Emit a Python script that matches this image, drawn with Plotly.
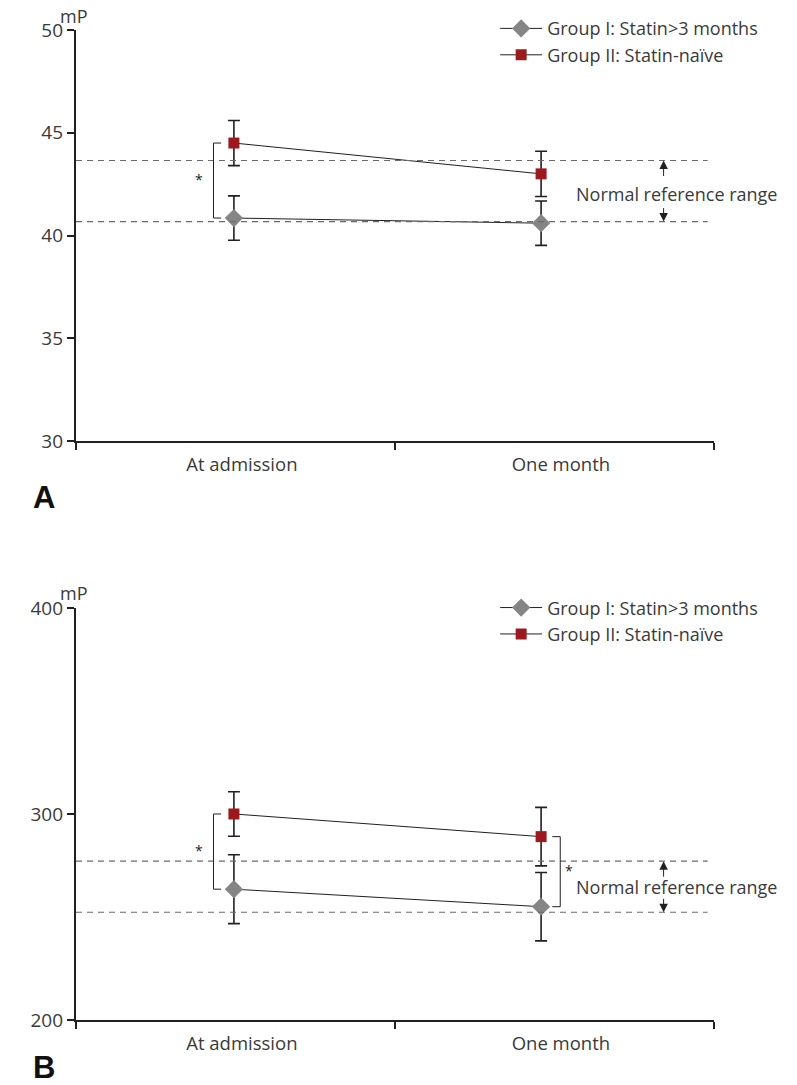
import plotly.graph_objects as go

# ---------------- data ----------------
categories = ["At admission", "One month"]
label_x = [0.52, 1.52]          # category label positions on the x scale
point_x = [0.495, 1.458]        # where the means are plotted
series_names = ["Group I: Statin>3 months", "Group II: Statin-naïve"]

# Panel A
a_g1 = [40.85, 40.6]
a_g1_err = [1.08, 1.08]
a_g2 = [44.5, 43.0]
a_g2_err = [1.1, 1.1]
a_ref = [40.68, 43.65]
a_yticks = [30, 35, 40, 45, 50]

# Panel B
b_g1 = [263.5, 255.0]
b_g1_err = [16.7, 16.6]
b_g2 = [300.0, 289.0]
b_g2_err = [10.8, 14.2]
b_ref = [252.3, 277.1]
b_yticks = [200, 300, 400]

# significance brackets: (category index, side)
a_sig = [(0, "left")]
b_sig = [(0, "left"), (1, "right")]

# ---------------- style ----------------
FONT = "Open Sans"
DARK = "#231f20"
TXT = "#3a3a3a"
RED = "#9c1a1e"
GRAY = "#858585"

fig = go.Figure()

def add_panel(xa, ya, g1, g1e, g2, g2e, legend):
    fig.add_trace(go.Scatter(
        x=point_x, y=g1, name=series_names[0], mode="lines+markers",
        xaxis=xa, yaxis=ya, legend=legend,
        line=dict(color=DARK, width=1),
        marker=dict(symbol="diamond", size=14, color=GRAY),
        error_y=dict(type="data", array=g1e, visible=True, color=DARK,
                     thickness=1.6, width=6),
    ))
    fig.add_trace(go.Scatter(
        x=point_x, y=g2, name=series_names[1], mode="lines+markers",
        xaxis=xa, yaxis=ya, legend=legend,
        line=dict(color=DARK, width=1),
        marker=dict(symbol="square", size=11, color=RED),
        error_y=dict(type="data", array=g2e, visible=True, color=DARK,
                     thickness=1.6, width=6),
    ))

add_panel("x", "y", a_g1, a_g1_err, a_g2, a_g2_err, "legend")
add_panel("x2", "y2", b_g1, b_g1_err, b_g2, b_g2_err, "legend2")

shapes = []
annotations = []

def ref_range(xr, yr, ref):
    for v in ref:
        shapes.append(dict(type="line", xref=xr, yref=yr, x0=0, x1=1.98,
                           y0=v, y1=v, line=dict(color="#6a6a6a", width=1.2, dash="6px,5px")))
    lo, hi = ref
    annotations.append(dict(xref=xr, yref=yr, x=1.842, y=hi, ax=0, ay=17,
                            showarrow=True, arrowhead=2, arrowsize=1.7,
                            arrowwidth=1, arrowcolor=DARK, text=""))
    annotations.append(dict(xref=xr, yref=yr, x=1.842, y=lo, ax=0, ay=-15,
                            showarrow=True, arrowhead=2, arrowsize=1.7,
                            arrowwidth=1, arrowcolor=DARK, text=""))

def ref_text(xr, yr, ypix_from_hi, ref):
    annotations.append(dict(xref=xr, yref=yr, x=1.562, y=ref[1], yshift=-ypix_from_hi,
                            xanchor="left", yanchor="middle", showarrow=False,
                            text="Normal reference range",
                            font=dict(family=FONT, size=18, color=TXT)))

def brackets(xr, yr, sig, g1, g2):
    for i, side in sig:
        if side == "left":
            xb, xt, xs = point_x[i] - 0.064, point_x[i] - 0.04, point_x[i] - 0.11
        else:
            xb, xt, xs = point_x[i] + 0.06, point_x[i] + 0.035, point_x[i] + 0.086
        top, bot = g2[i], g1[i]
        shapes.append(dict(type="path", xref=xr, yref=yr,
                           path=f"M {xt},{top} L {xb},{top} L {xb},{bot} L {xt},{bot}",
                           line=dict(color=DARK, width=1)))
        annotations.append(dict(xref=xr, yref=yr, x=xs, y=(top + bot) / 2 + (top - bot) * 0.02,
                                showarrow=False, text="*",
                                font=dict(family=FONT, size=14, color=DARK)))

ref_range("x", "y", a_ref)
ref_text("x", "y", 33, a_ref)
brackets("x", "y", a_sig, a_g1, a_g2)

ref_range("x2", "y2", b_ref)
ref_text("x2", "y2", 26, b_ref)
brackets("x2", "y2", b_sig, b_g1, b_g2)

# unit labels and panel letters
annotations.append(dict(xref="paper", yref="paper", x=-0.003, y=1.0, yshift=14,
                        xanchor="center", yanchor="middle", showarrow=False, text="mP",
                        font=dict(family=FONT, size=18, color=TXT)))
annotations.append(dict(xref="paper", yref="paper", x=-0.003, y=0.4162, yshift=15,
                        xanchor="center", yanchor="middle", showarrow=False, text="mP",
                        font=dict(family=FONT, size=18, color=TXT)))
annotations.append(dict(xref="paper", yref="paper", x=-0.07, y=0.5848, yshift=-56,
                        xanchor="left", yanchor="middle", showarrow=False, text="<b>A</b>",
                        font=dict(family="Liberation Sans", size=31, color="#111")))
annotations.append(dict(xref="paper", yref="paper", x=-0.07, y=0.0, yshift=-47,
                        xanchor="left", yanchor="middle", showarrow=False, text="<b>B</b>",
                        font=dict(family="Liberation Sans", size=31, color="#111")))

xcommon = dict(range=[0, 2], showline=True, linecolor=DARK, linewidth=2.2,
               tickvals=label_x, ticktext=categories, ticks="",
               ticklabelstandoff=6,
               tickfont=dict(family=FONT, size=18.5, color=TXT),
               minor=dict(tickvals=[0, 1, 2], ticks="outside", ticklen=7,
                          tickwidth=2, tickcolor=DARK),
               showgrid=False, zeroline=False, fixedrange=True)
ycommon = dict(showline=True, linecolor=DARK, linewidth=2.2, ticks="outside",
               ticklen=7, tickwidth=2, tickcolor=DARK,
               tickfont=dict(family=FONT, size=19, color=TXT),
               showgrid=False, zeroline=False)

fig.update_layout(
    width=797, height=1085,
    margin=dict(l=76, r=83, t=30, b=65, autoexpand=False),
    paper_bgcolor="white", plot_bgcolor="white",
    showlegend=True,
    xaxis=dict(**xcommon, anchor="y"),
    yaxis=dict(**ycommon, range=[30, 50], tickvals=a_yticks, domain=[0.5848, 1], anchor="x"),
    xaxis2=dict(**xcommon, anchor="y2"),
    yaxis2=dict(**ycommon, range=[200, 400], tickvals=b_yticks, domain=[0, 0.4162], anchor="x2"),
    legend=dict(x=0.657, y=1.02, xanchor="left", yanchor="top", itemwidth=42,
                bgcolor="rgba(0,0,0,0)", tracegroupgap=0,
                font=dict(family=FONT, size=18, color=TXT)),
    legend2=dict(x=0.657, y=0.435, xanchor="left", yanchor="top", itemwidth=42,
                 bgcolor="rgba(0,0,0,0)", tracegroupgap=0,
                 font=dict(family=FONT, size=18, color=TXT)),
    shapes=shapes,
    annotations=annotations,
)

fig.write_html("out.html", config={"displayModeBar": False},
               post_script="document.body.style.margin='0px';")
